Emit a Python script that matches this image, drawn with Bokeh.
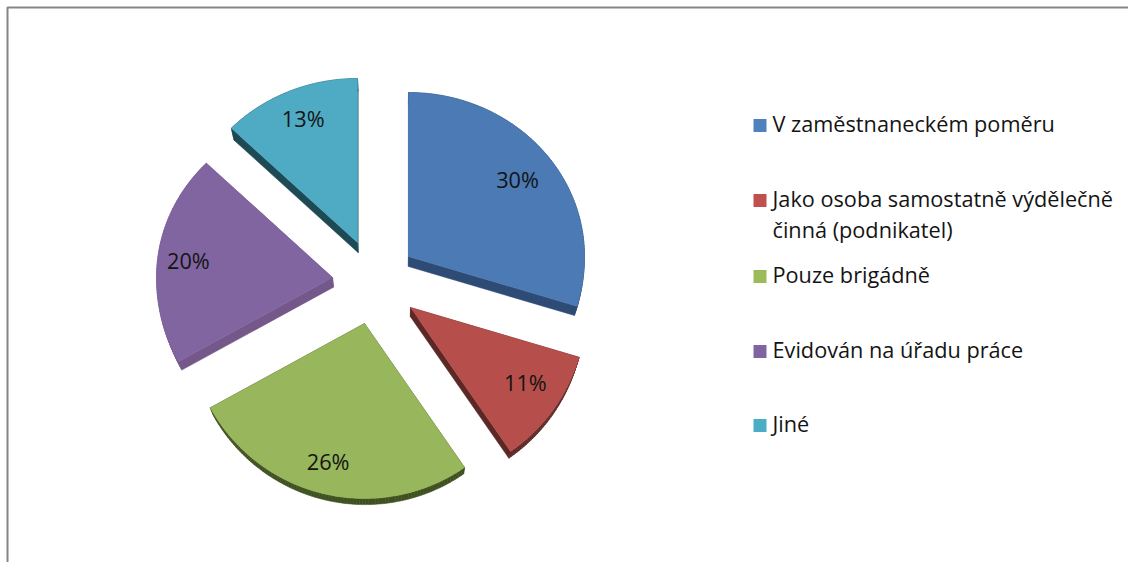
import math
from bokeh.plotting import figure
from bokeh.models import Range1d
from bokeh.core.properties import value
from bokeh.embed import file_html
from bokeh.resources import INLINE

# Data
categories = ["V zaměstnaneckém poměru",
              "Jako osoba samostatně výdělečně\nčinná (podnikatel)",
              "Pouze brigádně",
              "Evidován na úřadu práce",
              "Jiné"]
shares = [30, 11, 26, 20, 13]

# Style
top_colors = ["#4b7ab4", "#b64f4b", "#98b65b", "#8165a0", "#4fabc4"]
side_colors = ["#2e4b75", "#5c2826", "#3f5020", "#745889", "#1e4a55"]
legend_colors = ["#4f81bd", "#c0504d", "#9bbb59", "#8064a2", "#4bacc6"]
FONT = "Open Sans"
FS = "21.7px"
TEXT = "#141414"

# Layout (pixels of the picture)
apex_x = [408, 410, 364, 332, 357]
apex_y = [256, 307, 323, 277, 242]
label_frac = [0.78, 0.78, 0.83, 0.82, 0.80]
label_dx = [-2, 3, 0, -1, 0]
label_dy = [-2, -4, -3, 0, -3]
RX, RY_UP, RY_DOWN = 176, 164, 175
VP_X, VP_Y, K = 400, 880, 0.016
legend_y = [123, 198, 274, 349, 423]
LINE_STEP = 31

p = figure(width=1128, height=562, x_range=Range1d(0, 1128), y_range=Range1d(562, 0),
           x_axis_location=None, y_axis_location=None, toolbar_location=None,
           output_backend="svg", min_border=0, outline_line_color=None,
           background_fill_color="white", border_fill_color="white")
p.grid.visible = False


def on_rim(ax, ay, deg):
    # small angular warp for the picture's perspective
    if 90 < deg < 180:
        deg -= 2.5 * math.sin(math.radians(2 * (deg - 90)))
    elif 270 < deg < 360:
        deg += math.sin(math.radians(2 * (deg - 270)))
    a = math.radians(deg)
    dy = -math.cos(a)
    return ax + RX * math.sin(a), ay + dy * (RY_DOWN if dy > 0 else RY_UP)


def extrude(x, y):
    return x + (VP_X - x) * K, y + (VP_Y - y) * K


# Frame
p.line([7, 7, 1128], [562, 7, 7], line_color="#858585", line_width=2)

start = 0.0
total = sum(shares)
lab_x, lab_y, lab_t = [], [], []
for i, s in enumerate(shares):
    sweep = 360.0 * s / total
    n = max(8, int(sweep))
    pts = [(apex_x[i], apex_y[i])]
    pts += [on_rim(apex_x[i], apex_y[i], start + sweep * j / n) for j in range(n + 1)]
    low = [extrude(*q) for q in pts]
    qx, qy = [], []
    for j in range(len(pts)):
        k = (j + 1) % len(pts)
        qx.append([pts[j][0], pts[k][0], low[k][0], low[j][0]])
        qy.append([pts[j][1], pts[k][1], low[k][1], low[j][1]])
    p.patches(qx, qy, fill_color=side_colors[i], line_color=side_colors[i], line_width=0.5)
    p.patch([q[0] for q in pts], [q[1] for q in pts], fill_color=top_colors[i],
            line_color=top_colors[i], line_width=0.5)
    mx, my = on_rim(apex_x[i], apex_y[i], start + sweep / 2)
    lab_x.append(apex_x[i] + (mx - apex_x[i]) * label_frac[i] + label_dx[i])
    lab_y.append(apex_y[i] + (my - apex_y[i]) * label_frac[i] + label_dy[i])
    lab_t.append(f"{s}%")
    start += sweep

p.text(lab_x, lab_y, text=lab_t, text_align="center", text_baseline="middle",
       text_font=value(FONT), text_font_size=FS, text_color=TEXT)

# Legend
p.rect([759.5] * 5, [y + 2 for y in legend_y], width=13, height=13,
       fill_color=legend_colors, line_color=None)
tx, ty, tt = [], [], []
for yy, name in zip(legend_y, categories):
    for n, part in enumerate(name.split("\n")):
        tx.append(772)
        ty.append(yy + n * LINE_STEP)
        tt.append(part)
p.text(tx, ty, text=tt, text_align="left", text_baseline="middle",
       text_font=value(FONT), text_font_size=FS, text_color=TEXT)

open("out.html", "w").write(file_html(p, INLINE))
